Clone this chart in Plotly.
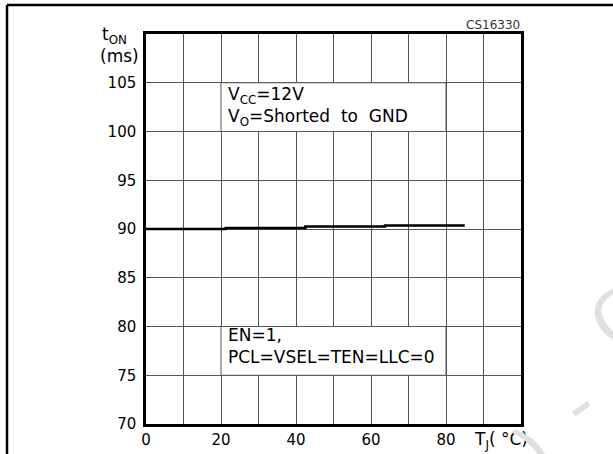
import plotly.graph_objects as go

# turn-on time vs junction temperature
temp_c = [0, 21.25, 42.5, 63.75, 85]
t_on_ms = [90.0, 90.1, 90.25, 90.35, 90.35]

x_grid = [0, 10, 20, 30, 40, 50, 60, 70, 80, 90]
x_labels = ['0', '', '20', '', '40', '', '60', '', '80', '']
y_grid = [70, 75, 80, 85, 90, 95, 100, 105]
y_labels = ['70', '75', '80', '85', '90', '95', '100', '105']

# the figure is a bit taller than the window; only the top 454px are photographed
W, H = 613, 471
L, R, T, B = 146, 521, 34, 424   # plot area in pixels
FONT = 'DejaVu Sans'


def px(p):
    return (p - L) / (R - L)


def py(p):
    return (B - p) / (B - T)


fig = go.Figure()
fig.add_trace(go.Scatter(x=temp_c, y=t_on_ms, mode='lines',
                         line=dict(color='black', width=2.5, shape='hv'),
                         hoverinfo='skip', showlegend=False))

# white boxes behind the condition texts
for y0, y1 in [(100, 105), (75, 80)]:
    fig.add_shape(type='rect', xref='x', yref='y', x0=20, x1=80, y0=y0, y1=y1,
                  fillcolor='white', line=dict(color='#555555', width=1), layer='between')

# outer frame (left and top edges only)
fig.add_shape(type='line', xref='paper', yref='paper', x0=px(7), x1=px(7), y0=py(H), y1=py(5),
              line=dict(color='black', width=2.5))
fig.add_shape(type='line', xref='paper', yref='paper', x0=px(7), x1=px(W), y0=py(5), y1=py(5),
              line=dict(color='black', width=2.5))

ann = dict(xref='paper', yref='paper', showarrow=False, font=dict(family=FONT, size=17, color='black'))
fig.add_annotation(x=px(226), y=py(106.5), xanchor='left', yanchor='middle', align='left',
                   text='V<sub>CC</sub>=12V<br>V<sub>O</sub>=Shorted  to  GND', **ann)
fig.add_annotation(x=px(226), y=py(346), xanchor='left', yanchor='middle', align='left',
                   text='EN=1,<br>PCL=VSEL=TEN=LLC=0', **ann)
fig.add_annotation(x=px(141), y=py(56), xanchor='right', yanchor='middle', text='(ms)', **ann)
fig.add_annotation(x=px(100), y=py(35), xanchor='left', yanchor='middle',
                   text='t<sub>ON</sub>', **ann)
fig.add_annotation(x=px(472), y=py(440), xanchor='left', yanchor='middle',
                   text='T<sub>J</sub>( °C)', **ann)
fig.add_annotation(x=px(522), y=py(25), xanchor='right', yanchor='middle', text='CS16330',
                   xref='paper', yref='paper', showarrow=False,
                   font=dict(family=FONT, size=12, color='#333333'))

# faint watermark fragments at the lower right
for ch, cx, cy in [(')', 534, 452), ('-', 578, 405), ('C', 618, 318)]:
    fig.add_annotation(x=px(cx), y=py(cy), text=ch, textangle=-35, showarrow=False,
                       xref='paper', yref='paper', xanchor='center', yanchor='middle',
                       font=dict(family=FONT, size=70, color='#e0e0e0'))

fig.update_xaxes(range=[0, 100], tickvals=x_grid, ticktext=x_labels, showgrid=True,
                 gridcolor='#555555', gridwidth=1, zeroline=False, showline=True, mirror=True,
                 linecolor='black', linewidth=2.5, ticks='', ticklabelstandoff=0,
                 tickfont=dict(family=FONT, size=15, color='black'))
fig.update_yaxes(range=[70, 110], tickvals=y_grid, ticktext=y_labels, showgrid=True,
                 gridcolor='#555555', gridwidth=1, zeroline=False, showline=True, mirror=True,
                 linecolor='black', linewidth=2.5, ticks='', ticklabelstandoff=4,
                 tickfont=dict(family=FONT, size=15, color='black'))

fig.update_layout(width=W, height=H, margin=dict(l=L, r=W - R, t=T, b=H - B),
                  paper_bgcolor='white', plot_bgcolor='white', showlegend=False)

# drop the page's default body margin so the figure sits at the window's corner
page_js = ("document.body.style.margin='0';"
           "document.documentElement.style.overflow='hidden';")
fig.write_html('out.html', config={'displayModeBar': False}, post_script=page_js)
